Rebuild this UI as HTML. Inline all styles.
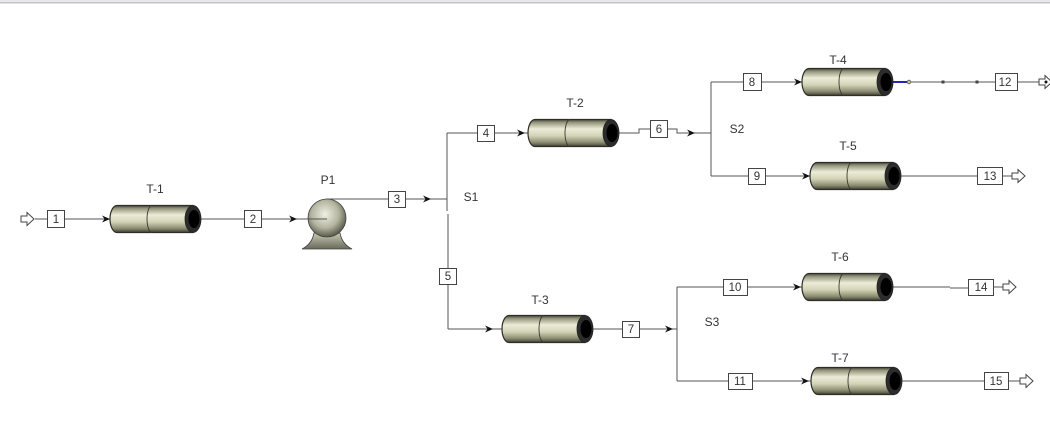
<!DOCTYPE html>
<html>
<head>
<meta charset="utf-8">
<style>
  html,body{margin:0;padding:0;background:#fff;}
  body{width:1050px;height:435px;overflow:hidden;position:relative;}
  svg{position:absolute;left:0;top:0;}
  text{font-family:"Liberation Sans",Arial,sans-serif;font-size:11.5px;fill:#333;}
  .lbl{font-size:12px;}
</style>
</head>
<body>
<svg width="1050" height="435" viewBox="0 0 1050 435" xmlns="http://www.w3.org/2000/svg">
  <defs>
    <linearGradient id="tg" x1="0" y1="0" x2="0" y2="1">
      <stop offset="0" stop-color="#4a4a3c"/>
      <stop offset="0.12" stop-color="#9a9a82"/>
      <stop offset="0.35" stop-color="#ececd8"/>
      <stop offset="0.6" stop-color="#d4d4b8"/>
      <stop offset="0.85" stop-color="#8c8c72"/>
      <stop offset="1" stop-color="#3e3e32"/>
    </linearGradient>
    <radialGradient id="pg" cx="0.45" cy="0.4" r="0.6">
      <stop offset="0" stop-color="#f0f0e4"/>
      <stop offset="0.6" stop-color="#b4b4a0"/>
      <stop offset="1" stop-color="#5a5a4c"/>
    </radialGradient>
    <linearGradient id="bg" x1="0" y1="0" x2="0" y2="1">
      <stop offset="0" stop-color="#c8c8b4"/>
      <stop offset="1" stop-color="#6a6a5a"/>
    </linearGradient>
    <g id="tank">
      <path d="M7,0 H83 V27 H7 A7 13.5 0 0 1 7 0 Z" fill="url(#tg)" stroke="#2e2e28" stroke-width="1.2"/>
      <path d="M42,0 A5 13.5 0 0 0 42 27" fill="none" stroke="#3a3a30" stroke-width="0.9"/>
      <ellipse cx="83" cy="13.5" rx="8" ry="13.5" fill="#2c2c2c" stroke="#222" stroke-width="0.8"/>
      <ellipse cx="84" cy="13.5" rx="5.5" ry="9" fill="#000"/>
    </g>
    <path id="ah" d="M-8,-3.5 L0,0 L-8,3.5 L-5.5,0 Z" fill="#111"/>
    <path id="oa" d="M0,-3 H6 V-6.5 L13,0 L6,6.5 V3 H0 Z" fill="#fff" stroke="#444" stroke-width="1"/>
  </defs>

  <!-- top bar -->
  <rect x="0" y="0" width="1050" height="2" fill="#e8e8ec"/>
  <rect x="0" y="2" width="1050" height="1.5" fill="#c4c4c8"/>

  <g stroke="#555" stroke-width="1" fill="none">
    <line x1="35" y1="219" x2="47" y2="219"/>
    <line x1="64" y1="219" x2="110" y2="219"/>
    <line x1="199" y1="219" x2="244" y2="219"/>
    <line x1="262" y1="219" x2="327" y2="219"/>
    <line x1="326" y1="199" x2="388" y2="199"/>
    <line x1="406" y1="199" x2="447" y2="199"/>
    <line x1="447" y1="133" x2="447" y2="211"/>
    <line x1="448" y1="214" x2="448" y2="329"/>
    <line x1="447" y1="133" x2="477" y2="133"/>
    <line x1="494" y1="133" x2="528" y2="133"/>
    <line x1="448" y1="329" x2="503" y2="329"/>
    <polyline points="618,133 639,133 639,129 650,129"/>
    <polyline points="667,129 677,129 677,133 711,133"/>
    <line x1="711" y1="82" x2="711" y2="176"/>
    <line x1="711" y1="82" x2="743" y2="82"/>
    <line x1="761" y1="82" x2="802" y2="82"/>
    <line x1="711" y1="176" x2="748" y2="176"/>
    <line x1="765" y1="176" x2="810" y2="176"/>
    <line x1="592" y1="329" x2="622" y2="329"/>
    <line x1="639" y1="329" x2="677" y2="329"/>
    <line x1="677" y1="287" x2="677" y2="381"/>
    <line x1="677" y1="287" x2="723" y2="287"/>
    <line x1="747" y1="287" x2="802" y2="287"/>
    <line x1="677" y1="381" x2="728" y2="381"/>
    <line x1="752" y1="381" x2="812" y2="381"/>
    <line x1="909" y1="82" x2="995" y2="82"/>
    <line x1="1017" y1="82" x2="1039" y2="82"/>
    <line x1="899" y1="176" x2="977" y2="176"/>
    <line x1="1002" y1="176" x2="1012" y2="176"/>
    <line x1="891" y1="287" x2="950" y2="287"/>
    <line x1="950" y1="288" x2="968" y2="288"/>
    <line x1="993" y1="287" x2="1003" y2="287"/>
    <line x1="899" y1="381" x2="984" y2="381"/>
    <line x1="1008" y1="381" x2="1020" y2="381"/>
  </g>

  <line x1="892" y1="82" x2="907" y2="82" stroke="#2424c0" stroke-width="2"/>
  <circle cx="909" cy="82" r="1.8" fill="#c8c890" stroke="#555" stroke-width="0.8"/>
  <rect x="941.5" y="80.5" width="3" height="3" fill="#444"/>
  <rect x="975.5" y="80.5" width="3" height="3" fill="#444"/>

  <g fill="#fff" stroke="#444" stroke-width="1">
    <rect x="47.5" y="210.5" width="17" height="17"/>
    <rect x="244.5" y="210.5" width="17" height="17"/>
    <rect x="388.5" y="191.5" width="17" height="16"/>
    <rect x="477.5" y="125.5" width="17" height="16"/>
    <rect x="439.5" y="268.5" width="17" height="16"/>
    <rect x="650.5" y="120.5" width="17" height="17"/>
    <rect x="622.5" y="321.5" width="17" height="16"/>
    <rect x="743.5" y="73.5" width="18" height="17"/>
    <rect x="748.5" y="168.5" width="17" height="16"/>
    <rect x="723.5" y="279.5" width="24" height="16"/>
    <rect x="728.5" y="373.5" width="24" height="16"/>
    <rect x="995.5" y="73.5" width="22" height="17"/>
    <rect x="977.5" y="167.5" width="25" height="17"/>
    <rect x="968.5" y="279.5" width="25" height="16"/>
    <rect x="984.5" y="372.5" width="24" height="17"/>
  </g>
  <g text-anchor="middle">
    <text x="56" y="223">1</text>
    <text x="253" y="223">2</text>
    <text x="397" y="203">3</text>
    <text x="486" y="137">4</text>
    <text x="448" y="280">5</text>
    <text x="659" y="133">6</text>
    <text x="631" y="333">7</text>
    <text x="752" y="86">8</text>
    <text x="757" y="180">9</text>
    <text x="735" y="291">10</text>
    <text x="740" y="385">11</text>
    <text x="1005" y="86">12</text>
    <text x="990" y="180">13</text>
    <text x="981" y="291">14</text>
    <text x="996" y="385">15</text>
  </g>

  <!-- pump -->
  <path d="M314,233 Q312,244 302,249 H352 Q342,244 340,233 Z" fill="url(#bg)" stroke="#444" stroke-width="0.8"/>
  <circle cx="327" cy="218" r="19" fill="url(#pg)" stroke="#444" stroke-width="0.8"/>
  <line x1="308" y1="219" x2="327" y2="219" stroke="#555" stroke-width="1"/>
  <line x1="326" y1="199" x2="346" y2="199" stroke="#555" stroke-width="1"/>

  <use href="#tank" x="110" y="205.5"/>
  <use href="#tank" x="528" y="119.5"/>
  <use href="#tank" x="502" y="315.5"/>
  <use href="#tank" x="802" y="68.5"/>
  <use href="#tank" x="810" y="162.5"/>
  <use href="#tank" x="802" y="273.5"/>
  <use href="#tank" x="811" y="367.5"/>

  <use href="#ah" x="110" y="219"/>
  <use href="#ah" x="297" y="219"/>
  <use href="#ah" x="431" y="199"/>
  <use href="#ah" x="525" y="133"/>
  <use href="#ah" x="695" y="133"/>
  <use href="#ah" x="802" y="82"/>
  <use href="#ah" x="810" y="176"/>
  <use href="#ah" x="493" y="329"/>
  <use href="#ah" x="673" y="329"/>
  <use href="#ah" x="801" y="287"/>
  <use href="#ah" x="809" y="381"/>

  <use href="#oa" x="21" y="219"/>
  <use href="#oa" x="1039" y="82"/>
  <circle cx="1046" cy="82" r="1.5" fill="#111"/>
  <use href="#oa" x="1012" y="176"/>
  <use href="#oa" x="1003" y="287"/>
  <use href="#oa" x="1020" y="381"/>

  <g text-anchor="middle" class="lbl">
    <text class="lbl" x="155" y="193">T-1</text>
    <text class="lbl" x="328" y="184">P1</text>
    <text class="lbl" x="471" y="201">S1</text>
    <text class="lbl" x="575" y="107">T-2</text>
    <text class="lbl" x="540" y="304">T-3</text>
    <text class="lbl" x="838" y="64">T-4</text>
    <text class="lbl" x="848" y="150">T-5</text>
    <text class="lbl" x="737" y="133">S2</text>
    <text class="lbl" x="840" y="261">T-6</text>
    <text class="lbl" x="840" y="362">T-7</text>
    <text class="lbl" x="712" y="326">S3</text>
  </g>
</svg>
</body>
</html>
